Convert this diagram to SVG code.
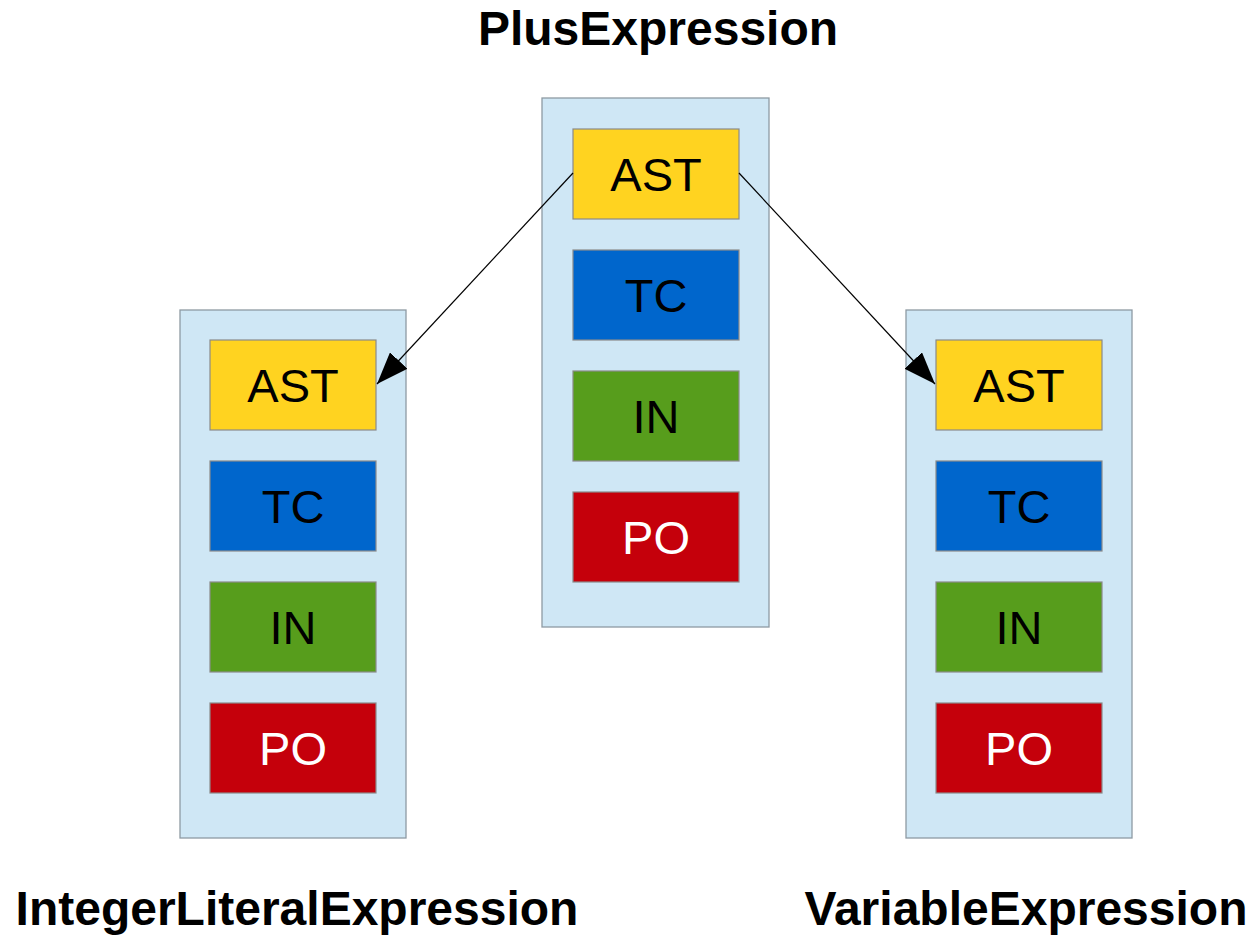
<svg xmlns="http://www.w3.org/2000/svg" width="1253" height="936" viewBox="0 0 1253 936">
<style>
.cont{fill:#cfe7f5;stroke:#8e9aa3;stroke-width:1.3}
.box{stroke:#8a8a8a;stroke-width:1.2}
.ast{fill:#ffd320}
.tc{fill:#0066cc}
.in{fill:#579d1c}
.po{fill:#c5000b}
.lbl{font-family:"Liberation Sans",Arial,sans-serif;font-size:47px;text-anchor:middle;fill:#000}
.w{fill:#fff}
.title{font-family:"Liberation Sans",Arial,sans-serif;font-size:48px;font-weight:bold;text-anchor:middle;fill:#000}
.conn{stroke:#000;stroke-width:1.2;fill:none}
</style>
<defs>
<marker id="ah" markerUnits="userSpaceOnUse" markerWidth="34" markerHeight="24" refX="32" refY="12" orient="auto">
<path d="M0,0 L32,12 L0,24 Z" fill="#000"/>
</marker>
</defs>
<rect width="1253" height="936" fill="#fff"/>
<g id="plus">
<rect class="cont" x="542" y="98" width="227" height="529"/>
<rect class="box ast" x="573" y="129" width="166" height="90"/>
<text class="lbl" x="656" y="191">AST</text>
<rect class="box tc" x="573" y="250" width="166" height="90"/>
<text class="lbl" x="656" y="312">TC</text>
<rect class="box in" x="573" y="371" width="166" height="90"/>
<text class="lbl" x="656" y="433">IN</text>
<rect class="box po" x="573" y="492" width="166" height="90"/>
<text class="lbl w" x="656" y="554">PO</text>
<text class="title" x="658" y="45">PlusExpression</text>
</g>
<g id="integer">
<rect class="cont" x="180" y="310" width="226" height="528"/>
<rect class="box ast" x="210" y="340" width="166" height="90"/>
<text class="lbl" x="293" y="402">AST</text>
<rect class="box tc" x="210" y="461" width="166" height="90"/>
<text class="lbl" x="293" y="523">TC</text>
<rect class="box in" x="210" y="582" width="166" height="90"/>
<text class="lbl" x="293" y="644">IN</text>
<rect class="box po" x="210" y="703" width="166" height="90"/>
<text class="lbl w" x="293" y="765">PO</text>
<text class="title" x="297" y="925">IntegerLiteralExpression</text>
</g>
<g id="variable">
<rect class="cont" x="906" y="310" width="226" height="528"/>
<rect class="box ast" x="936" y="340" width="166" height="90"/>
<text class="lbl" x="1019" y="402">AST</text>
<rect class="box tc" x="936" y="461" width="166" height="90"/>
<text class="lbl" x="1019" y="523">TC</text>
<rect class="box in" x="936" y="582" width="166" height="90"/>
<text class="lbl" x="1019" y="644">IN</text>
<rect class="box po" x="936" y="703" width="166" height="90"/>
<text class="lbl w" x="1019" y="765">PO</text>
<text class="title" x="1026" y="925">VariableExpression</text>
</g>
<g id="connectors">
<line class="conn" x1="573" y1="173" x2="377" y2="384" marker-end="url(#ah)"/>
<line class="conn" x1="739" y1="173" x2="935" y2="384" marker-end="url(#ah)"/>
</g>
</svg>
